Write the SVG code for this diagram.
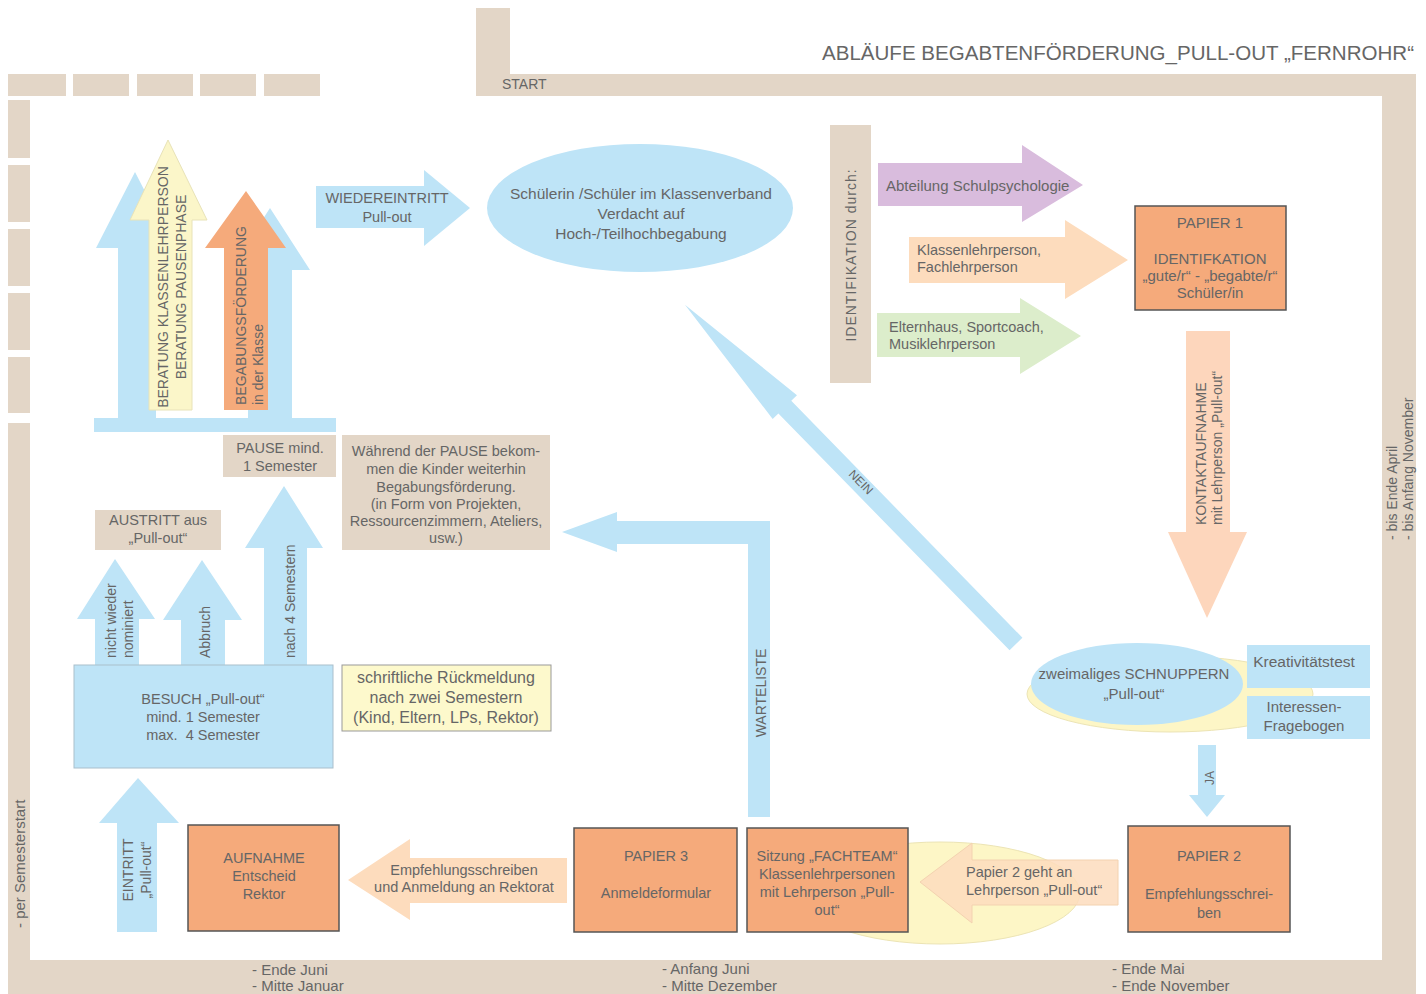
<svg xmlns="http://www.w3.org/2000/svg" width="1426" height="994" viewBox="0 0 1426 994">
<style>
text{font-family:"Liberation Sans",Arial,sans-serif;fill:#666;font-size:14.5px}
.c{text-anchor:middle}
.frame{fill:#e3d6c7}
.blue{fill:#bee4f7}
.org{fill:#f5aa7b;stroke:#555;stroke-width:1.5}
.beige{fill:#e3d6c7}
.sm{font-size:14px}
.lbl{font-size:15px}
</style>
<rect width="1426" height="994" fill="#fff"/>
<g id="frame">
<rect class="frame" x="8" y="74" width="58" height="22"/>
<rect class="frame" x="73" y="74" width="56" height="22"/>
<rect class="frame" x="137" y="74" width="56" height="22"/>
<rect class="frame" x="200" y="74" width="56" height="22"/>
<rect class="frame" x="264" y="74" width="56" height="22"/>
<rect class="frame" x="8" y="100" width="22" height="58"/>
<rect class="frame" x="8" y="165" width="22" height="57"/>
<rect class="frame" x="8" y="229" width="22" height="57"/>
<rect class="frame" x="8" y="293" width="22" height="57"/>
<rect class="frame" x="8" y="357" width="22" height="56"/>
<rect class="frame" x="8" y="423" width="22" height="571"/>
<rect class="frame" x="8" y="960" width="1374" height="34"/>
<rect class="frame" x="476" y="8" width="34" height="88"/>
<rect class="frame" x="476" y="74" width="940" height="22"/>
<rect class="frame" x="1382" y="74" width="34" height="920"/>
<text x="502" y="89" class="sm">START</text>
<text x="1414" y="60" style="font-size:20px;text-anchor:end" textLength="592" lengthAdjust="spacingAndGlyphs">ABLÄUFE BEGABTENFÖRDERUNG_PULL-OUT „FERNROHR“</text>
<text transform="translate(25,928) rotate(-90)" class="lbl">- per Semesterstart</text>
<text transform="translate(1397,540) rotate(-90)" class="sm">- bis Ende April</text>
<text transform="translate(1413,540) rotate(-90)" class="sm">- bis Anfang November</text>
<text x="252" y="975" class="lbl">- Ende Juni</text>
<text x="252" y="991" class="lbl">- Mitte Januar</text>
<text x="662" y="974" class="lbl">- Anfang Juni</text>
<text x="662" y="991" class="lbl">- Mitte Dezember</text>
<text x="1112" y="974" class="lbl">- Ende Mai</text>
<text x="1112" y="991" class="lbl">- Ende November</text>
</g>
<g id="connectors">
<polygon class="blue" transform="translate(1016,644) rotate(-134.3)" points="0,-9 331,-9 331,-17 474,0 331,17 331,9 0,9"/>
<text transform="translate(858,485) rotate(46)" class="c" style="font-size:12px">NEIN</text>
<rect class="blue" x="748" y="521" width="22" height="296"/>
<polygon class="blue" points="748,521 617,521 617,512 562,532 617,552 617,544 748,544"/>
<text transform="translate(766,693) rotate(-90)" class="c sm">WARTELISTE</text>
<polygon class="blue" points="1198,745 1216,745 1216,795 1225,795 1207,817 1189,795 1198,795"/>
<text transform="translate(1214,778) rotate(-90)" class="c" style="font-size:12px">JA</text>
<polygon fill="#fdd6bc" points="1186,331 1230,331 1230,532 1247,532 1207,618 1168,532 1186,532"/>
<text transform="translate(1206,525) rotate(-90)" class="sm">KONTAKTAUFNAHME</text>
<text transform="translate(1222,525) rotate(-90)" class="sm">mit Lehrperson „Pull-out“</text>
<polygon class="blue" points="316,186 424,186 424,170 470,208 424,246 424,228 316,228"/>
<text x="387" y="203" class="c">WIEDEREINTRITT</text>
<text x="387" y="222" class="c">Pull-out</text>
<polygon class="blue" points="118,418 118,248 96,248 135,172 174,248 156,248 156,418"/>
<polygon class="blue" points="248,418 248,270 230,270 270,208 310,270 292,270 292,418"/>
<rect class="blue" x="94" y="418" width="242" height="14"/>
<polygon fill="#fbf6c9" stroke="#e8e3b8" stroke-width="1" points="149,410 149,220 130,220 168,140 207,220 192,220 192,410"/>
<text transform="translate(168,287) rotate(-90)" class="c sm">BERATUNG KLASSENLEHRPERSON</text>
<text transform="translate(186,287) rotate(-90)" class="c sm">BERATUNG PAUSENPHASE</text>
<polygon fill="#f5aa7b" points="224,410 224,248 205,248 246,191 286,248 268,248 268,410"/>
<text transform="translate(246,405) rotate(-90)" class="sm">BEGABUNGSFÖRDERUNG</text>
<text transform="translate(263,405) rotate(-90)" class="sm">in der Klasse</text>
<polygon class="blue" points="95,665 95,619 77,619 115,559 155,619 139,619 139,665"/>
<text transform="translate(116,658) rotate(-90)" class="sm">nicht wieder</text>
<text transform="translate(133,658) rotate(-90)" class="sm">nominiert</text>
<polygon class="blue" points="181,665 181,620 163,620 202,560 242,620 225,620 225,665"/>
<text transform="translate(210,658) rotate(-90)" class="sm">Abbruch</text>
<polygon class="blue" points="264,665 264,548 245,548 284,486 323,548 307,548 307,665"/>
<text transform="translate(295,658) rotate(-90)" class="sm">nach 4 Semestern</text>
<polygon class="blue" points="117,932 117,823 99,823 138,778 179,823 157,823 157,932"/>
<text transform="translate(133,870) rotate(-90)" class="c sm">EINTRITT</text>
<text transform="translate(151,870) rotate(-90)" class="c sm">„Pull-out“</text>
<polygon fill="#fddcbd" points="567,858 567,903 410,903 410,920 348,880 410,839 410,858"/>
<text x="464" y="875" class="c">Empfehlungsschreiben</text>
<text x="464" y="892" class="c">und Anmeldung an Rektorat</text>
</g>
<g id="ident">
<rect class="beige" x="830" y="125" width="41" height="258"/>
<text transform="translate(856,255) rotate(-90)" class="c sm" style="letter-spacing:1px">IDENTIFIKATION durch:</text>
</g>
<g id="schulpsy">
<polygon fill="#d9bcdd" points="878,163 1022,163 1022,145 1083,185 1022,222 1022,206 878,206"/>
<text x="886" y="191" class="lbl">Abteilung Schulpsychologie</text>
</g>
<g id="klassenlp">
<polygon fill="#fddcbd" points="909,237 1065,237 1065,220 1128,260 1065,299 1065,283 909,283"/>
<text x="917" y="255">Klassenlehrperson,</text>
<text x="917" y="272">Fachlehrperson</text>
</g>
<g id="eltern">
<polygon fill="#dcedcb" points="877,313 1020,313 1020,298 1081,336 1020,374 1020,357 877,357"/>
<text x="889" y="332">Elternhaus, Sportcoach,</text>
<text x="889" y="349">Musiklehrperson</text>
</g>
<g id="schueler">
<ellipse class="blue" cx="640" cy="208" rx="153" ry="64"/>
<text x="641" y="199" class="c" style="font-size:15.5px">Schülerin /Schüler im Klassenverband</text>
<text x="641" y="219" class="c" style="font-size:15.5px">Verdacht auf</text>
<text x="641" y="239" class="c" style="font-size:15.5px">Hoch-/Teilhochbegabung</text>
</g>
<g id="papier1">
<rect class="org" x="1135" y="206" width="151" height="104"/>
<text x="1210" y="228" class="c lbl">PAPIER 1</text>
<text x="1210" y="264" class="c lbl">IDENTIFKATION</text>
<text x="1210" y="281" class="c lbl">„gute/r“ - „begabte/r“</text>
<text x="1210" y="298" class="c lbl">Schüler/in</text>
</g>
<g id="schnuppern">
<ellipse cx="1170" cy="694" rx="143" ry="38" fill="#fdf6c6" stroke="#ece4b4"/>
<ellipse class="blue" cx="1137" cy="684" rx="106" ry="41"/>
<text x="1134" y="679" class="c lbl">zweimaliges SCHNUPPERN</text>
<text x="1134" y="699" class="c lbl">„Pull-out“</text>
</g>
<g id="kreativ">
<rect class="blue" x="1247" y="645" width="123" height="43"/>
<text x="1304" y="667" class="c" style="font-size:15.5px">Kreativitätstest</text>
</g>
<g id="interessen">
<rect class="blue" x="1247" y="696" width="123" height="43"/>
<text x="1304" y="712" class="c lbl">Interessen-</text>
<text x="1304" y="731" class="c lbl">Fragebogen</text>
</g>
<g id="papier2">
<ellipse cx="940" cy="893" rx="140" ry="51" fill="#fdf6c6" stroke="#ece4b4"/>
<rect class="org" x="1128" y="826" width="162" height="106"/>
<text x="1209" y="861" class="c">PAPIER 2</text>
<text x="1209" y="899" class="c">Empfehlungsschrei-</text>
<text x="1209" y="918" class="c">ben</text>
<polygon fill="#fddcbd" fill-opacity="0.85" stroke="#f3d2b0" points="1118,860 1118,905 972,905 972,923 920,882 972,843 972,860"/>
<text x="966" y="877">Papier 2 geht an</text>
<text x="966" y="895">Lehrperson „Pull-out“</text>
</g>
<g id="sitzung">
<rect class="org" x="747" y="828" width="161" height="104"/>
<text x="827" y="861" class="c">Sitzung „FACHTEAM“</text>
<text x="827" y="879" class="c">Klassenlehrpersonen</text>
<text x="827" y="897" class="c">mit Lehrperson „Pull-</text>
<text x="827" y="915" class="c">out“</text>
</g>
<g id="papier3">
<rect class="org" x="574" y="828" width="163" height="104"/>
<text x="656" y="861" class="c">PAPIER 3</text>
<text x="656" y="898" class="c">Anmeldeformular</text>
</g>
<g id="aufnahme">
<rect class="org" x="188" y="825" width="151" height="106"/>
<text x="264" y="863" class="c">AUFNAHME</text>
<text x="264" y="881" class="c">Entscheid</text>
<text x="264" y="899" class="c">Rektor</text>
</g>
<g id="besuch">
<rect class="blue" stroke="#aabfcc" x="74" y="665" width="259" height="103"/>
<text x="203" y="704" class="c">BESUCH „Pull-out“</text>
<text x="203" y="722" class="c">mind. 1 Semester</text>
<text x="203" y="740" class="c">max.&#160; 4 Semester</text>
</g>
<g id="rueckmeldung">
<rect fill="#fdf9cc" stroke="#999" x="342" y="665" width="209" height="66"/>
<text x="446" y="683" class="c" style="font-size:16px">schriftliche Rückmeldung</text>
<text x="446" y="703" class="c" style="font-size:16px">nach zwei Semestern</text>
<text x="446" y="723" class="c" style="font-size:16px">(Kind, Eltern, LPs, Rektor)</text>
</g>
<g id="austritt">
<rect class="beige" x="95" y="510" width="126" height="40"/>
<text x="158" y="525" class="c">AUSTRITT aus</text>
<text x="158" y="543" class="c">„Pull-out“</text>
</g>
<g id="pause">
<rect class="beige" x="223" y="435" width="113" height="42"/>
<text x="280" y="453" class="c">PAUSE mind.</text>
<text x="280" y="471" class="c">1 Semester</text>
</g>
<g id="waehrend">
<rect class="beige" x="342" y="435" width="208" height="115"/>
<text x="446" y="456" class="c">Während der PAUSE bekom-</text>
<text x="446" y="474" class="c">men die Kinder weiterhin</text>
<text x="446" y="492" class="c">Begabungsförderung.</text>
<text x="446" y="509" class="c">(in Form von Projekten,</text>
<text x="446" y="526" class="c">Ressourcenzimmern, Ateliers,</text>
<text x="446" y="543" class="c">usw.)</text>
</g>
</svg>
